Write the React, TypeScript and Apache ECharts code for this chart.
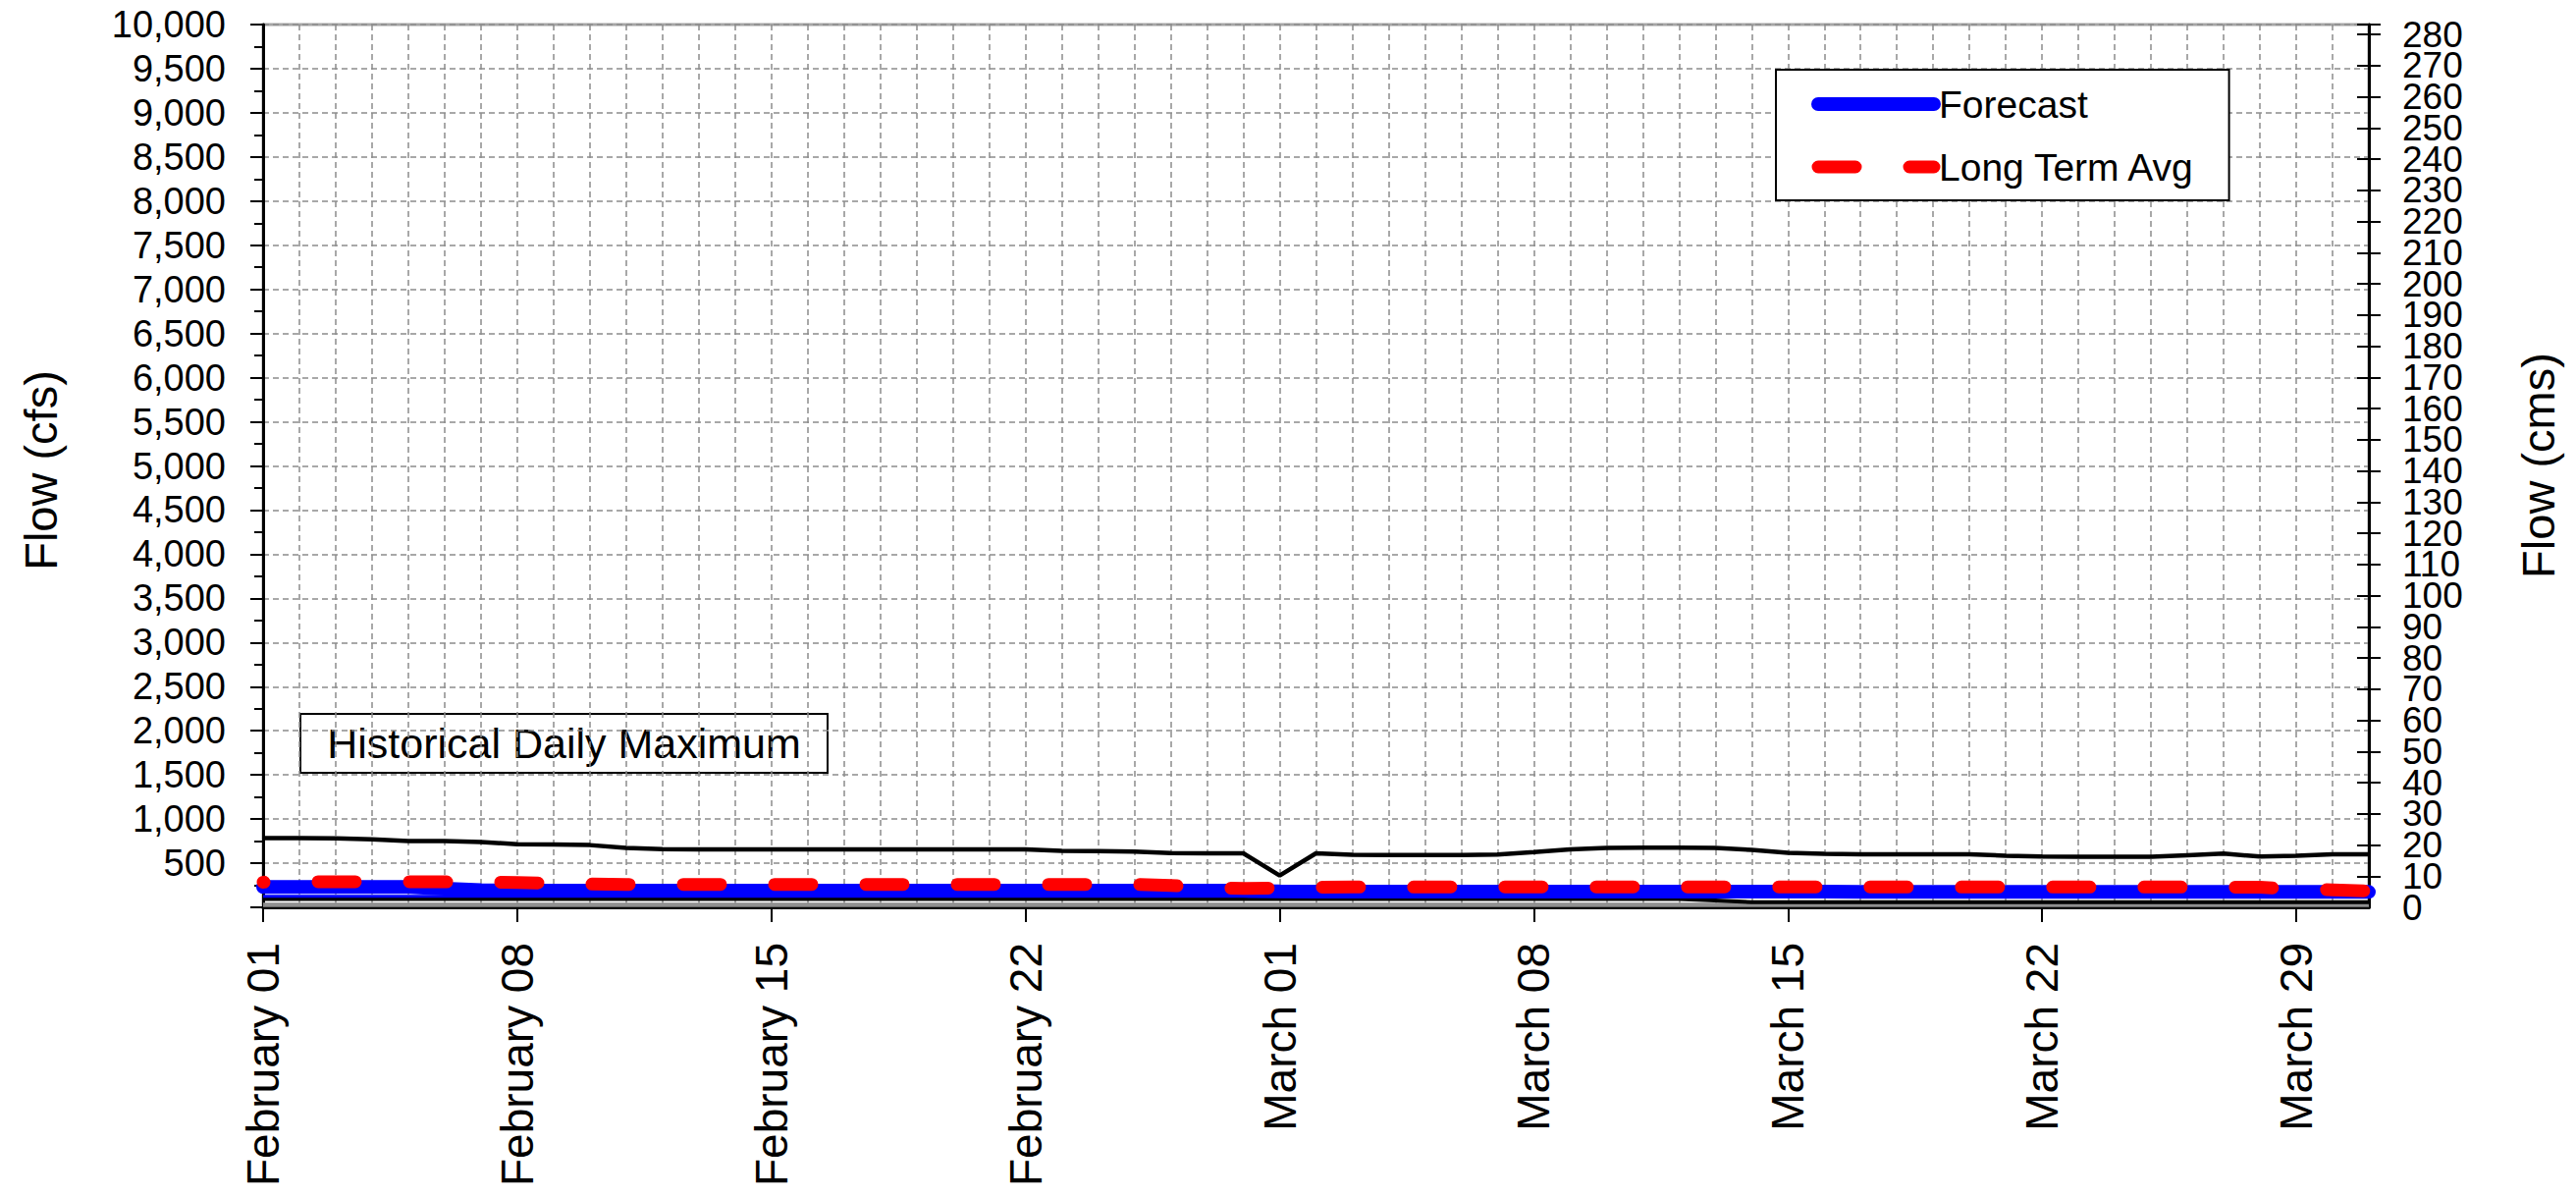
import React, { useEffect, useRef } from 'react';
import * as echarts from 'echarts';

const FONT = '"Liberation Sans", Arial, Helvetica, sans-serif';

// X categories: February 01 .. March 31
const months = [
  { name: 'February', days: 28 },
  { name: 'March', days: 31 },
];
const categories: string[] = [];
months.forEach((m) => {
  for (let d = 1; d <= m.days; d++) categories.push(`${m.name} ${String(d).padStart(2, '0')}`);
});

// Values in cfs, one per day (59 days)
const historicalMax = [
  785, 785, 782, 770, 752, 750, 740, 715, 712, 705,
  672, 658, 656, 656, 656, 656, 656, 656, 656, 656,
  656, 655, 640, 636, 630, 615, 612, 612, 360, 612,
  595, 593, 593, 593, 598, 625, 655, 672, 676, 676,
  674, 650, 618, 605, 602, 602, 600, 600, 585, 575,
  572, 572, 572, 590, 608, 575, 585, 600, 600,
];

const longTermAvg = [
  285, 290, 290, 290, 290, 288, 286, 282, 272, 263,
  260, 260, 260, 260, 260, 260, 260, 260, 260, 260,
  260, 260, 260, 260, 260, 248, 225, 214, 218, 228,
  230, 230, 230, 232, 232, 232, 232, 232, 232, 232,
  232, 232, 232, 232, 232, 230, 230, 230, 230, 230,
  230, 230, 230, 230, 230, 228, 205, 198, 185,
];

const forecast = [
  230, 230, 230, 230, 230, 212, 195, 190, 190, 190,
  190, 190, 190, 190, 190, 190, 190, 190, 190, 190,
  190, 190, 190, 190, 190, 190, 190, 188, 182, 178,
  178, 178, 178, 178, 178, 178, 178, 178, 178, 178,
  177, 177, 177, 177, 176, 176, 176, 176, 175, 175,
  175, 175, 175, 175, 175, 174, 174, 174, 174,
];

const forecastLower = [
  125, 125, 125, 125, 125, 125, 125, 125, 125, 125,
  125, 125, 125, 125, 125, 125, 125, 125, 125, 125,
  125, 125, 125, 125, 125, 125, 125, 125, 125, 125,
  125, 125, 125, 125, 125, 125, 125, 125, 125, 125,
  125, 125, 125, 125, 125, 125, 125, 125, 125, 125,
  125, 125, 125, 125, 125, 125, 125, 125, 125,
];

const historicalLow = [
  95, 95, 95, 95, 95, 95, 95, 95, 95, 95,
  95, 95, 95, 95, 95, 95, 95, 95, 95, 95,
  95, 95, 95, 95, 95, 95, 95, 95, 95, 95,
  95, 95, 95, 95, 95, 95, 95, 95, 95, 95,
  78, 58, 58, 58, 58, 58, 58, 58, 58, 58,
  58, 58, 58, 58, 58, 58, 58, 58, 58,
];

const minBandUpper = [
  38, 38, 38, 38, 38, 38, 38, 38, 38, 38,
  38, 38, 38, 38, 38, 38, 38, 38, 38, 38,
  38, 38, 38, 38, 38, 38, 38, 38, 38, 38,
  38, 38, 38, 38, 38, 38, 38, 38, 38, 38,
  38, 38, 38, 38, 38, 38, 38, 38, 38, 38,
  38, 38, 38, 38, 38, 38, 38, 38, 38,
];

const minBandLower = [
  16, 16, 16, 16, 16, 16, 16, 16, 16, 16,
  16, 16, 16, 16, 16, 16, 16, 16, 16, 16,
  16, 16, 16, 16, 16, 16, 16, 16, 16, 16,
  16, 16, 16, 16, 16, 16, 16, 16, 16, 16,
  16, 16, 16, 16, 16, 16, 16, 16, 16, 16,
  16, 16, 16, 16, 16, 16, 16, 16, 16,
];

// Axes
const CFS_MAX = 10000;
const CFS_INTERVAL = 500;
const CFS_PER_CMS = 35.3147;
const CMS_MAX = CFS_MAX / CFS_PER_CMS;
const CMS_INTERVAL = 10;
const CMS_LAST_LABEL = 280;

const isMajorDay = (i: number) => i % 7 === 0;
const isCmsStep = (v: number) => Math.abs(v / CMS_INTERVAL - Math.round(v / CMS_INTERVAL)) < 1e-6;

const rightLabelBase = {
  margin: 34,
  fontSize: 37,
  lineHeight: 24,
  color: '#000',
  fontFamily: FONT,
};

export default function App() {
  const ref = useRef<HTMLDivElement>(null);

  useEffect(() => {
    document.body.style.margin = '0';
    if (!ref.current) return;
    const chart = echarts.init(ref.current, null, { renderer: 'svg' });

    const option: any = {
      animation: false,
      backgroundColor: '#ffffff',
      textStyle: { fontFamily: FONT },
      grid: {
        left: 268,
        right: 211,
        top: 25,
        bottom: 295,
        show: true,
        borderColor: '#a6a6a6',
        borderWidth: 3,
        backgroundColor: 'transparent',
      },
      legend: {
        show: true,
        orient: 'vertical',
        left: 1809,
        top: 71,
        data: [
          { name: 'Forecast' },
          { name: 'Long Term Avg', lineStyle: { dashOffset: 0 } },
        ],
        itemWidth: 118,
        itemHeight: 40,
        itemGap: 24,
        padding: [15, 34, 14, 36],
        backgroundColor: '#ffffff',
        borderColor: '#000000',
        borderWidth: 2,
        selectedMode: false,
        itemStyle: { opacity: 0 },
        lineStyle: { width: 'inherit' },
        textStyle: { fontSize: 39, color: '#000', fontFamily: FONT, lineHeight: 40 },
      },
      xAxis: {
        type: 'category',
        data: categories,
        boundaryGap: false,
        axisLine: { show: true, onZero: false, lineStyle: { color: '#000', width: 3 } },
        axisTick: {
          show: true,
          interval: (i: number) => isMajorDay(i),
          length: 15,
          lineStyle: { color: '#000', width: 2 },
        },
        axisLabel: {
          interval: (i: number) => isMajorDay(i),
          rotate: 90,
          margin: 36,
          fontSize: 46,
          color: '#000',
          fontFamily: FONT,
        },
        splitLine: {
          show: true,
          interval: 0,
          lineStyle: { color: '#8c8c8c', width: 1.5, type: [6, 4] },
        },
      },
      yAxis: [
        {
          type: 'value',
          position: 'left',
          min: 0,
          max: CFS_MAX,
          interval: CFS_INTERVAL,
          axisLine: { show: true, lineStyle: { color: '#000', width: 3 } },
          axisTick: { show: true, length: 13, lineStyle: { color: '#000', width: 2 } },
          minorTick: { show: true, splitNumber: 2, length: 9, lineStyle: { color: '#000', width: 2 } },
          axisLabel: {
            margin: 38,
            fontSize: 38,
            color: '#000',
            fontFamily: FONT,
            formatter: (v: number) => (v === 0 ? '' : v.toLocaleString('en-US')),
          },
          splitLine: { show: true, lineStyle: { color: '#8c8c8c', width: 1.5, type: [6, 4] } },
        },
        {
          // right axis: labels 10..280 and outward ticks
          type: 'value',
          position: 'right',
          min: 0,
          max: CMS_MAX,
          interval: CMS_INTERVAL,
          axisLine: { show: true, lineStyle: { color: '#000', width: 3 } },
          axisTick: { show: true, length: 12, lineStyle: { color: '#000', width: 2 } },
          axisLabel: {
            ...rightLabelBase,
            showMinLabel: false,
            formatter: (v: number) => (v > 0 && v <= CMS_LAST_LABEL + 1e-6 && isCmsStep(v) ? String(Math.round(v)) : ''),
          },
          splitLine: { show: false },
        },
        {
          // right axis companion: inward ticks and the "0" label
          type: 'value',
          position: 'right',
          min: 0,
          max: CMS_MAX,
          interval: CMS_INTERVAL,
          axisLine: { show: false },
          axisTick: { show: true, inside: true, length: 12, lineStyle: { color: '#000', width: 2 } },
          axisLabel: {
            ...rightLabelBase,
            showMinLabel: true,
            formatter: (v: number) => (v === 0 ? '0' : ''),
          },
          splitLine: { show: false },
        },
      ],
      graphic: [
        {
          type: 'group',
          z: 100,
          children: [
            {
              type: 'rect',
              shape: { x: 306, y: 727, width: 537, height: 60 },
              style: { fill: '#ffffff', stroke: '#000000', lineWidth: 2 },
            },
            {
              type: 'text',
              x: 574.5,
              y: 757,
              style: {
                text: 'Historical Daily Maximum',
                fontSize: 43,
                fontFamily: FONT,
                fill: '#000',
                align: 'center',
                verticalAlign: 'middle',
                textAlign: 'center',
                textVerticalAlign: 'middle',
              },
            },
          ],
        },
        {
          type: 'text',
          x: 41,
          y: 479,
          rotation: Math.PI / 2,
          style: {
            text: 'Flow (cfs)',
            fontSize: 47,
            fontFamily: FONT,
            fill: '#000',
            align: 'center',
            verticalAlign: 'middle',
            textAlign: 'center',
            textVerticalAlign: 'middle',
          },
        },
        {
          type: 'text',
          x: 2585,
          y: 474,
          rotation: Math.PI / 2,
          style: {
            text: 'Flow (cms)',
            fontSize: 47,
            fontFamily: FONT,
            fill: '#000',
            align: 'center',
            verticalAlign: 'middle',
            textAlign: 'center',
            textVerticalAlign: 'middle',
          },
        },
      ],
      series: [
        {
          name: 'Min Band Lower',
          type: 'line',
          data: minBandLower,
          symbol: 'none',
          lineStyle: { color: '#8c8c8c', width: 2.5 },
          z: 2,
        },
        {
          name: 'Min Band Upper',
          type: 'line',
          data: minBandUpper,
          symbol: 'none',
          lineStyle: { color: '#8c8c8c', width: 2.5 },
          z: 2,
        },
        {
          name: 'Historical Low',
          type: 'line',
          data: historicalLow,
          symbol: 'none',
          lineStyle: { color: '#000', width: 4 },
          z: 3,
        },
        {
          name: 'Forecast Lower',
          type: 'line',
          data: forecastLower,
          symbol: 'none',
          lineStyle: { color: '#0000ff', width: 3 },
          z: 4,
        },
        {
          name: 'Forecast',
          type: 'line',
          data: forecast,
          symbol: 'none',
          itemStyle: { color: '#0000ff' },
          lineStyle: { color: '#0000ff', width: 14, cap: 'round' },
          z: 5,
        },
        {
          name: 'Long Term Avg',
          type: 'line',
          data: longTermAvg,
          symbol: 'none',
          itemStyle: { color: '#ff0000' },
          lineStyle: { color: '#ff0000', width: 13, type: [38, 55], cap: 'round', dashOffset: 37 },
          z: 6,
        },
        {
          name: 'Historical Daily Maximum',
          type: 'line',
          data: historicalMax,
          symbol: 'none',
          lineStyle: { color: '#000', width: 4.5 },
          z: 7,
        },
      ],
    };

    chart.setOption(option);
    return () => chart.dispose();
  }, []);

  return <div ref={ref} style={{ width: 2624, height: 1219 }} />;
}
